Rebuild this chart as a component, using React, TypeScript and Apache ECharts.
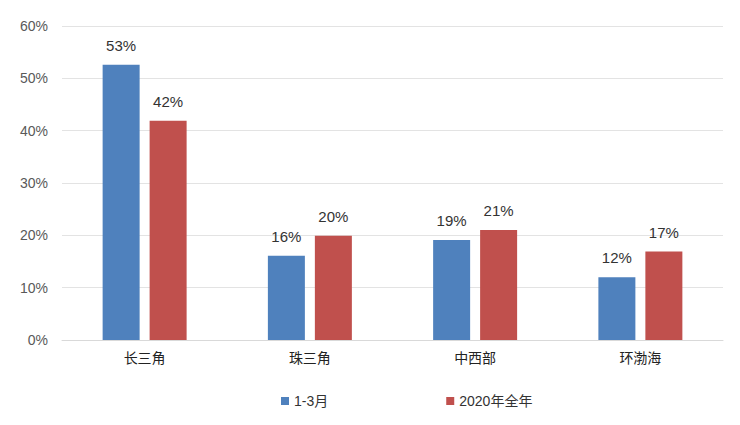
import { useEffect, useRef } from "react";
import * as echarts from "echarts";

const categories = ["长三角", "珠三角", "中西部", "环渤海"];
const seriesNames = ["1-3月", "2020年全年"];
const q1Values = [52.6, 16.1, 19.1, 12.0];
const fullYearValues = [41.9, 19.9, 21.0, 16.9];
const colors = ["#4F81BD", "#C0504D"];

// 數字用 Arial 類字型，中文退回 Noto CJK
const FONT = "'Liberation Sans', 'Noto Sans CJK SC', sans-serif";

function buildOption(): echarts.EChartsCoreOption {
  const label = {
    show: true,
    position: "top",
    distance: 12,
    color: "#333333",
    fontSize: 15,
    fontFamily: FONT,
    formatter: (p: { value: number }) => `${Math.round(p.value)}%`,
  };
  return {
    animation: false,
    textStyle: { fontFamily: FONT },
    grid: { left: 62, right: 17, top: 26, bottom: 85 },
    legend: {
      data: seriesNames,
      left: 276,
      bottom: 12,
      itemWidth: 8,
      itemHeight: 8,
      itemGap: 118,
      icon: "rect",
      textStyle: { color: "#333333", fontSize: 14, fontFamily: FONT },
    },
    xAxis: {
      type: "category",
      data: categories,
      axisTick: { show: false },
      axisLine: { lineStyle: { color: "#d9d9d9" } },
      axisLabel: { color: "#222222", fontSize: 14, margin: 11, fontFamily: FONT },
    },
    yAxis: {
      type: "value",
      min: 0,
      max: 60,
      interval: 10,
      axisLine: { show: false },
      axisTick: { show: false },
      splitLine: { lineStyle: { color: "#e3e3e3" } },
      axisLabel: {
        color: "#595959",
        fontSize: 14,
        margin: 14,
        fontFamily: FONT,
        formatter: "{value}%",
      },
    },
    series: [
      {
        name: seriesNames[0],
        type: "bar",
        data: q1Values,
        barWidth: 37,
        barGap: "27%",
        itemStyle: { color: colors[0] },
        label,
      },
      {
        name: seriesNames[1],
        type: "bar",
        data: fullYearValues,
        barWidth: 37,
        barGap: "27%",
        itemStyle: { color: colors[1] },
        label,
      },
    ],
  };
}

export default function App() {
  const ref = useRef<HTMLDivElement | null>(null);

  useEffect(() => {
    const el = ref.current;
    if (!el) return;
    const chart = echarts.init(el, undefined, { renderer: "svg" });
    chart.setOption(buildOption());
    return () => {
      chart.dispose();
    };
  }, []);

  return (
    <div
      ref={ref}
      style={{ width: 740, height: 425, position: "absolute", left: 0, top: 0, background: "#fff" }}
    />
  );
}
